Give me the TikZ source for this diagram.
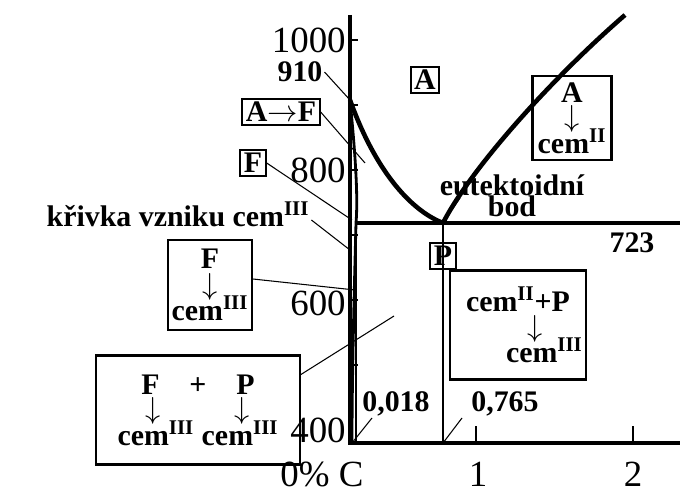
\documentclass[tikz,border=0pt]{standalone}
\usepackage{fontspec}
\setmainfont{Liberation Serif}
\usetikzlibrary{positioning}
\tikzset{lab/.style = {font=\bfseries\fontsize{17}{17}\selectfont, inner sep=1pt},
         boxed/.style = {lab, draw, line width=1.2pt, inner sep=2pt, align=center},
         num/.style = {font=\fontsize{21}{21}\selectfont, inner sep=0},
         lead/.style = {line width=0.6pt},
         phase/.style = {line width=2.6pt}}
\newcommand{\cem}[1]{cem\textsuperscript{#1}}
\newcommand{\dn}{\raisebox{0pt}[8pt][0pt]{$\downarrow$}}
\begin{document}
\begin{tikzpicture}[x=0.02cm, y=-0.02cm]
      \useasboundingbox (0,0) rectangle (691,500);
      % axes
      \draw [line width=1.8pt] (350,15) -- (350,443) -- (680,443);
      \foreach \y in {40,105,170,235,300,365} \draw [line width=0.8pt] (350,\y) -- (358,\y);
      \draw [line width=0.8pt] (476,443) -- (476,426);
      \draw [line width=0.8pt] (633,443) -- (633,426);
      \node [num, anchor=east] (t1000) at (346,40) {1000};
      \node [num, anchor=east] (t800) at (346,170) {800};
      \node [num, anchor=east] (t600) at (346,303) {600};
      \node [num, anchor=east] (t400) at (346,430) {400};
      \node [num] (x0) at (322,474) {0\% C};
      \node [num] (x1) at (478,474) {1};
      \node [num] (x2) at (633,474) {2};
      % phase lines
      \coordinate (g) at (350,100);
      \coordinate (s) at (443,223);
      \coordinate (q) at (356,223);
      \draw [phase] (g) .. controls (375,170) and (410,210) .. (s);
      \draw [phase] (s) .. controls (470,170) and (550,80) .. (625,15);
      \draw [phase] (q) -- (680,223);
      \draw [line width=1.6pt] (g) .. controls (356,160) and (358,200) .. (q) .. controls (354,300) and (352,380) .. (352,443);
      \draw [lead] (s) -- (443,443);
      \draw [lead] (356,223) -- (356,443);
      % labels
      \node [lab] (n910) at (300,72) {910};
      \draw [lead] (n910.east) -- (g);
      \node [boxed] (A) at (425,80) {A};
      \node [boxed] (AF) at (281,112) {A$\rightarrow$F};
      \draw [lead] (AF.east) -- (365,163);
      \node [boxed] (F) at (253,163) {F};
      \draw [lead] (F.east) -- (352,220);
      \node [lab] (kriv) at (178,214) {křivka vzniku \cem{III}};
      \draw [lead] (kriv.east) ++(0,6) -- (350,250);
      \node [boxed, minimum width=36pt, minimum height=51pt] (Fc) at (210,285) {F\\[-2pt]\dn\\[-2pt]\cem{III}};
      \draw [lead] (Fc.east) ++(0,-6) -- (355,290);
      \node [boxed, minimum width=116pt, minimum height=62pt] (FP) at (198,410) {F\quad +\quad P\\[-3pt]\dn\hspace{42pt}\dn\\[-2pt]\cem{III} \cem{III}};
      \draw [lead] (FP.north east) ++(0,20) -- (394,316);
      \node [boxed, minimum width=45pt, minimum height=48pt] (Ac) at (572,118) {A\\[-3pt]\dn\\[-2pt]\cem{II}};
      \node [lab, align=center] (eut) at (512,196) {eutektoidní\\[-5pt]bod};
      \draw [lead] (s) -- (460,198);
      \node [lab] (n723) at (632,243) {723};
      \node [boxed] (P) at (443,256) {P};
      \node [boxed, minimum width=71pt, minimum height=62pt, align=center] (cP) at (518,325) {\cem{II}+P\\[-3pt]\hspace{20pt}\dn\\[-2pt]\hspace{30pt}\cem{III}};
      \node [lab] (n018) at (396,404) {0,018};
      \draw [lead] (352,443) -- (372,418);
      \node [lab] (n765) at (505,404) {0,765};
      \draw [lead] (443,443) -- (462,418);
\end{tikzpicture}
\end{document}
